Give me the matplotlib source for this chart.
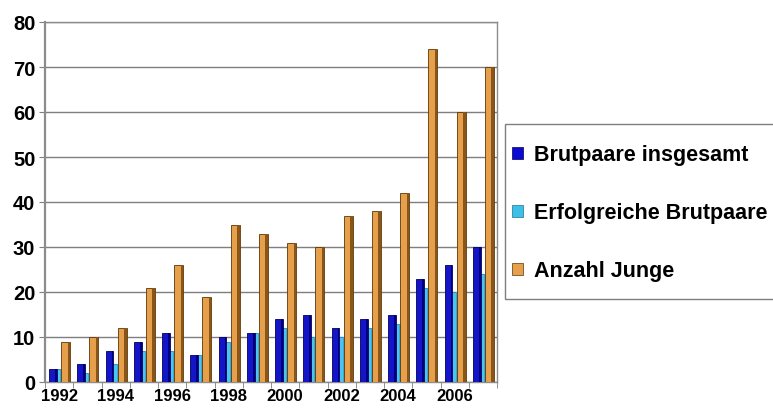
import matplotlib
matplotlib.use("Agg")
from matplotlib import pyplot as plt
from matplotlib.patches import Patch, Rectangle
import numpy as np

years = list(range(1992, 2008))
brutpaare = [3, 4, 7, 9, 11, 6, 10, 11, 14, 15, 12, 14, 15, 23, 26, 30]
erfolgreich = [3, 2, 4, 7, 7, 6, 9, 11, 12, 10, 10, 12, 13, 21, 20, 24]
junge = [9, 10, 12, 21, 26, 19, 35, 33, 31, 30, 37, 38, 42, 74, 60, 70]

series_labels = ["Brutpaare insgesamt", "Erfolgreiche Brutpaare", "Anzahl Junge"]
tick_labels = [str(y) for y in years if y % 2 == 0]

plt.rcParams['font.family'] = ['Liberation Sans', 'DejaVu Sans']
plt.rcParams['font.weight'] = 'bold'

W, H = 773, 410
fig = plt.figure(figsize=(W / 100, H / 100), dpi=100)
ax = fig.add_axes([45 / W, 27 / H, 452 / W, 360 / H])

x = np.arange(len(years))


def column(ax, xs, vals, left, width, face, side, edge, z, side_frac=0.28):
    # front face plus a darker strip on the right for the pseudo-3D look
    side_w = width * side_frac
    ax.bar(xs + left, vals, width=width, align='edge', color=face,
           edgecolor=edge, linewidth=0.6, zorder=z)
    ax.bar(xs + left + width - side_w, vals, width=side_w, align='edge',
           color=side, edgecolor='none', zorder=z + 0.1)


column(ax, x, erfolgreich, -0.16, 0.23, '#4CC4F0', '#38A8DA', '#2A86B4', 2,
       side_frac=0.15)
column(ax, x, brutpaare, -0.35, 0.27, '#1414C8', '#00007E', '#00005A', 3,
       side_frac=0.22)
column(ax, x, junge, 0.07, 0.32, '#E6A04C', '#8A5518', '#5A3508', 3)

ax.set_xlim(-0.5, len(years) - 0.5)
ax.set_ylim(0, 80)
ax.set_yticks(range(0, 81, 10))
ax.yaxis.grid(True, color='#7F7F7F', linewidth=1.0, zorder=0)
ax.set_axisbelow(True)

ax.set_xticks(x[::2])
ax.set_xticklabels(tick_labels, fontsize=12, fontweight='bold')
ax.set_xticks(np.arange(-0.5, len(years), 1.0), minor=True)
ax.tick_params(axis='x', which='major', length=0, pad=4)
ax.tick_params(axis='x', which='minor', length=4, color='#7F7F7F')
ax.tick_params(axis='y', length=4, color='#7F7F7F', labelsize=14.5, pad=3)
for lbl in ax.get_yticklabels():
    lbl.set_fontweight('bold')

for side in ['left', 'bottom', 'top', 'right']:
    ax.spines[side].set_color('#8C8C8C')
    ax.spines[side].set_linewidth(1.0)
ax.spines['left'].set_linewidth(1.6)

# legend box, running past the right edge of the figure
fig.patches.append(Rectangle((505 / W, 1 - 300 / H), 300 / W, 175 / H,
                             transform=fig.transFigure, facecolor='white',
                             edgecolor='#7F7F7F', linewidth=1.0, zorder=1))

handles = [Patch(facecolor='#0A0AD0', edgecolor='#00005A', linewidth=0.5),
           Patch(facecolor='#3CC0E6', edgecolor='#1F6F99', linewidth=0.5),
           Patch(facecolor='#E6A04C', edgecolor='#5A3508', linewidth=0.5)]
leg = fig.legend(handles, series_labels, loc='upper left',
                 bbox_to_anchor=(508 / W, 1 - 141 / H),
                 prop={'size': 15.5, 'weight': 'bold'},
                 handlelength=0.5, handleheight=0.5, handletextpad=0.5,
                 labelspacing=1.72, borderpad=0.2, borderaxespad=0,
                 frameon=False)
leg.set_zorder(2)

fig.savefig("out.png", dpi=100)
